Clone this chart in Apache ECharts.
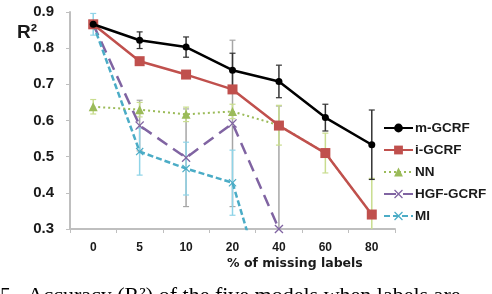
<!DOCTYPE html>
<html><head><meta charset="utf-8">
<script src="https://cdn.jsdelivr.net/npm/echarts@6/dist/echarts.min.js"></script>
<style>html,body{margin:0;padding:0;background:#fff}#c{width:492px;height:294px}</style>
</head><body><div id="c"></div>
<script>
var categories = ['0','5','10','20','40','60','80'];
var seriesNames = ['m-GCRF','i-GCRF','NN','HGF-GCRF','MI'];
var mGCRF = [0.866, 0.822, 0.803, 0.739, 0.708, 0.608, 0.533];
var iGCRF = [0.866, 0.764, 0.727, 0.686, 0.586, 0.510, 0.340];
var NN    = [0.638, 0.630, 0.617, 0.625, 0.587, 0.510, 0.340];
var HGF   = [0.866, 0.586, 0.497, 0.592, 0.300, null, null];
var MI    = [0.866, 0.514, 0.467, 0.428, 0.000, null, null];
var mGCRFerr = [0.005, 0.023, 0.028, 0.047, 0.045, 0.037, 0.096];
var NNerr    = [0.020, 0.020, 0.020, 0.020, 0.055, 0.055, 0.100];
var HGFerr   = [0.010, 0.070, 0.135, 0.230, 0.340, null, null];
var MIerr    = [0.030, 0.065, 0.073, 0.090, null, null, null];
var yTicks = [0.3, 0.4, 0.5, 0.6, 0.7, 0.8, 0.9];

var colors = ['#000000', '#c0504d', '#9bbb59', '#8064a2', '#4bacc6'];
var errColors = ['#333333', '#a6a6a6', '#c9dd8f', '#8fd4e8'];
var xPath = 'path://M0,1 L1,0 L5,4 L9,0 L10,1 L6,5 L10,9 L9,10 L5,6 L1,10 L0,9 L4,5 Z';

function errData(vals, errs) {
  var out = [];
  for (var i = 0; i < vals.length; i++) {
    if (vals[i] != null && errs[i] != null) out.push([i, vals[i] - errs[i], vals[i] + errs[i]]);
  }
  return out;
}
function errSeries(vals, errs, color) {
  return {
    type: 'custom', silent: true, z: 1,
    data: errData(vals, errs),
    renderItem: function (params, api) {
      var cs = params.coordSys;
      var top = api.coord([api.value(0), api.value(2)]);
      var bot = api.coord([api.value(0), api.value(1)]);
      var x = top[0];
      var y1 = Math.max(cs.y, top[1]);
      var y2 = Math.min(cs.y + cs.height, bot[1]);
      var ch = [{type: 'line', shape: {x1: x, y1: y1, x2: x, y2: y2}, style: {stroke: color, lineWidth: 1.5}}];
      if (top[1] >= cs.y) ch.push({type: 'line', shape: {x1: x - 3, y1: top[1], x2: x + 3, y2: top[1]}, style: {stroke: color, lineWidth: 1.2}});
      if (bot[1] <= cs.y + cs.height) ch.push({type: 'line', shape: {x1: x - 3, y1: bot[1], x2: x + 3, y2: bot[1]}, style: {stroke: color, lineWidth: 1.2}});
      return {type: 'group', children: ch};
    }
  };
}

var chart = echarts.init(document.getElementById('c'), null, {renderer: 'canvas'});
var font = 'Liberation Sans, Arial, sans-serif';
chart.setOption({
  animation: false,
  grid: {left: 70, right: 97, top: 12, bottom: 65},
  legend: {
    orient: 'vertical', left: 383, top: 121, itemGap: 8, itemWidth: 29, itemHeight: 11, padding: 0,
    data: seriesNames,
    textStyle: {fontFamily: font, fontSize: 13.5, fontWeight: 'bold', color: '#1a1a1a', padding: [0, 0, 0, -3]}
  },
  xAxis: {
    type: 'category', data: categories, boundaryGap: true,
    axisLine: {lineStyle: {color: '#bfbfbf', width: 2}},
    axisTick: {show: true, length: 4, lineStyle: {color: '#bfbfbf', width: 1}},
    axisLabel: {fontFamily: font, fontSize: 12, fontWeight: 'bold', color: '#1a1a1a', margin: 13}
  },
  yAxis: {
    type: 'value', min: 0.3, max: 0.9, interval: 0.1,
    splitLine: {show: false},
    axisLine: {show: true, lineStyle: {color: '#bfbfbf', width: 2}},
    axisTick: {show: true, length: 4, lineStyle: {color: '#bfbfbf'}},
    axisLabel: {fontFamily: font, fontSize: 15, fontWeight: 'bold', color: '#1a1a1a', margin: 16,
      formatter: function (v) { return v.toFixed(1); }}
  },
  graphic: [
    {type: 'text', left: 17, top: 23, style: {text: 'R²', fontFamily: font, fontSize: 19, fontWeight: 'bold', fill: '#1a1a1a'}},
    {type: 'text', left: 227, top: 257, style: {text: '% of missing labels', fontFamily: 'DejaVu Sans, sans-serif', fontSize: 12.5, fontWeight: 'bold', fill: '#1a1a1a'}},
    {type: 'text', left: 0, top: 285, style: {text: '5.  Accuracy (R²) of the five models when labels are', fontFamily: 'Liberation Serif, serif', fontSize: 22, fill: '#000'}}
  ],
  series: [
    errSeries(HGF, HGFerr, errColors[1]),
    errSeries(MI, MIerr, errColors[3]),
    errSeries(NN, NNerr, errColors[2]),
    errSeries(mGCRF, mGCRFerr, errColors[0]),
    {name: 'HGF-GCRF', type: 'line', data: HGF, color: colors[3], z: 3, symbol: xPath, symbolSize: 9,
     lineStyle: {width: 2.5, type: [12, 7]}, itemStyle: {color: colors[3]}},
    {name: 'MI', type: 'line', data: MI, color: colors[4], z: 3, symbol: xPath, symbolSize: 8,
     lineStyle: {width: 2.5, type: [6, 3]}, itemStyle: {color: colors[4]}},
    {name: 'NN', type: 'line', data: NN, color: colors[2], z: 4, symbol: 'triangle', symbolSize: 9,
     lineStyle: {width: 2, type: [2, 3]}, itemStyle: {color: colors[2]}},
    {name: 'i-GCRF', type: 'line', data: iGCRF, color: colors[1], z: 5, symbol: 'rect', symbolSize: 10,
     lineStyle: {width: 2.5}, itemStyle: {color: colors[1]}},
    {name: 'm-GCRF', type: 'line', data: mGCRF, color: colors[0], z: 6, symbol: 'circle', symbolSize: 7,
     lineStyle: {width: 2.5}, itemStyle: {color: colors[0]}}
  ]
});
</script></body></html>
